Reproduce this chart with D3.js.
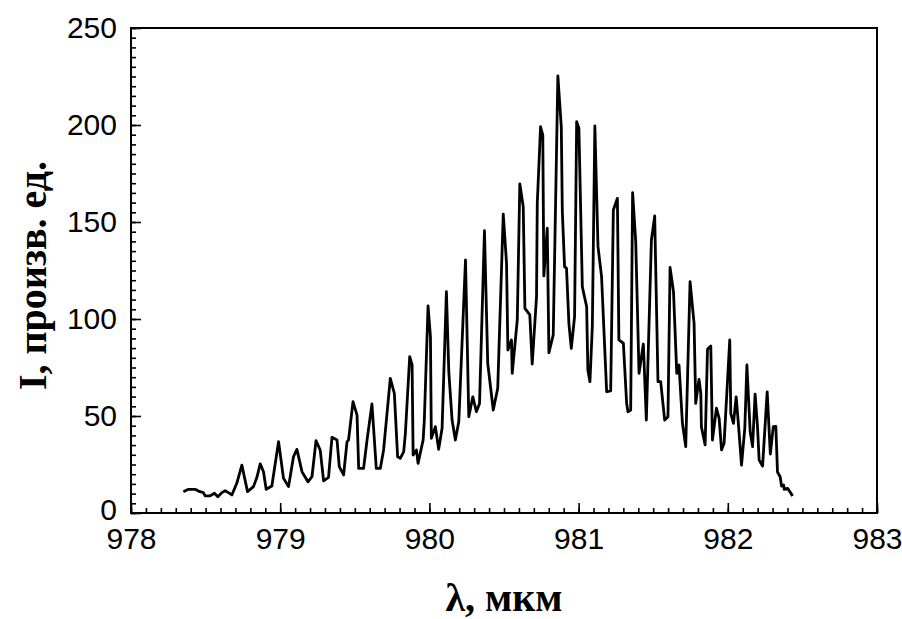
<!DOCTYPE html>
<html>
<head>
<meta charset="utf-8">
<script src="https://cdn.jsdelivr.net/npm/d3@7"></script>
<style>
  body { margin: 0; background: #fff; }
  .tick text { font-family: "Liberation Sans", Arial, sans-serif; font-size: 30px; fill: #000; }
  .title { font-family: "Liberation Serif", "Times New Roman", serif; font-weight: bold; font-size: 40px; fill: #000; }
</style>
</head>
<body>
<svg id="chart" width="902" height="619"></svg>
<script>
// wavelength, um
const lambda = [
  978.351, 978.385, 978.430, 978.452, 978.485, 978.497, 978.530, 978.559, 978.582, 978.609,
  978.631, 978.653, 978.676, 978.709, 978.743, 978.781, 978.821, 978.844, 978.866, 978.888,
  978.906, 978.944, 978.989, 979.022, 979.056, 979.089, 979.112, 979.146, 979.186, 979.213,
  979.240, 979.268, 979.291, 979.324, 979.347, 979.381, 979.396, 979.425, 979.448, 979.458,
  979.488, 979.515, 979.526, 979.559, 979.582, 979.615, 979.644, 979.671, 979.693, 979.738,
  979.765, 979.787, 979.805, 979.828, 979.839, 979.868, 979.884, 979.891, 979.913, 979.924,
  979.958, 979.966, 979.991, 980.007, 980.013, 980.040, 980.062, 980.085, 980.114, 980.130,
  980.152, 980.174, 980.197, 980.242, 980.264, 980.291, 980.315, 980.336, 980.369, 980.391,
  980.428, 980.458, 980.495, 980.517, 980.526, 980.550, 980.555, 980.589, 980.606, 980.629,
  980.640, 980.673, 980.689, 980.718, 980.723, 980.745, 980.760, 980.767, 980.790, 980.801,
  980.830, 980.861, 980.884, 980.891, 980.906, 980.919, 980.935, 980.951, 980.973, 980.987,
  981.002, 981.025, 981.054, 981.062, 981.076, 981.092, 981.109, 981.130, 981.154, 981.188,
  981.215, 981.233, 981.260, 981.270, 981.300, 981.322, 981.331, 981.349, 981.362, 981.383,
  981.405, 981.434, 981.454, 981.488, 981.510, 981.532, 981.550, 981.577, 981.599, 981.613,
  981.636, 981.658, 981.673, 981.696, 981.718, 981.747, 981.774, 981.785, 981.807, 981.819,
  981.823, 981.848, 981.864, 981.886, 981.897, 981.924, 981.942, 981.958, 981.975, 982.013,
  982.020, 982.038, 982.056, 982.069, 982.092, 982.114, 982.128, 982.150, 982.166, 982.183,
  982.199, 982.210, 982.233, 982.264, 982.285, 982.305, 982.322, 982.333, 982.351, 982.360,
  982.374, 982.378, 982.401, 982.423, 982.434
];
// intensity, arb. units
const intensity = [
  11.0, 12.2, 12.2, 11.3, 10.5, 8.8, 8.8, 10.2, 8.4, 10.5,
  11.5, 10.5, 9.3, 15.3, 24.7, 11.0, 13.6, 18.4, 25.3, 21.3,
  12.2, 13.9, 36.8, 17.9, 13.6, 29.0, 32.8, 21.3, 16.1, 18.7,
  37.3, 32.5, 16.6, 18.4, 39.0, 37.6, 23.9, 19.6, 36.8, 37.6,
  57.4, 50.5, 23.0, 23.0, 37.6, 56.2, 23.0, 23.0, 32.5, 69.4,
  61.7, 29.0, 28.2, 31.6, 41.1, 80.6, 76.3, 29.9, 32.5, 25.6,
  37.6, 47.9, 106.7, 90.9, 38.5, 44.5, 32.8, 43.7, 114.1, 72.8,
  47.9, 37.6, 47.1, 130.4, 49.6, 59.9, 52.2, 56.5, 145.5, 77.2,
  53.1, 64.3, 154.1, 128.7, 84.0, 89.2, 72.0, 99.5, 169.6, 157.9,
  105.5, 102.1, 76.8, 111.5, 159.6, 199.1, 194.8, 122.2, 146.8, 82.6,
  91.8, 225.3, 199.1, 155.3, 127.0, 126.1, 97.8, 84.9, 101.2, 201.7,
  198.3, 116.6, 106.3, 73.7, 67.7, 96.0, 199.5, 137.3, 121.8, 62.5,
  63.0, 156.2, 162.2, 89.2, 87.5, 56.5, 52.2, 53.1, 165.1, 139.8,
  72.0, 87.1, 47.9, 140.7, 153.1, 67.7, 67.7, 47.9, 49.6, 126.6,
  114.1, 72.0, 76.3, 46.2, 34.2, 119.2, 97.8, 56.5, 68.9, 61.7,
  44.5, 35.1, 84.4, 86.1, 37.6, 54.0, 48.8, 32.5, 35.9, 89.2,
  51.4, 46.2, 59.9, 47.9, 24.7, 43.7, 76.3, 41.9, 34.2, 61.3,
  44.5, 27.3, 24.2, 62.4, 30.4, 44.5, 44.6, 21.1, 18.7, 13.9,
  14.4, 12.2, 12.7, 10.2, 8.8
];
const xTicks = [978, 979, 980, 981, 982, 983];
const yTicks = [0, 50, 100, 150, 200, 250];

const svg = d3.select('#chart');
const margin = { left: 131, top: 28, right: 25, bottom: 106 };
const W = 902 - margin.left - margin.right;
const H = 619 - margin.top - margin.bottom;

const x = d3.scaleLinear().domain([978, 983]).range([0, W]);
const y = d3.scaleLinear().domain([0, 250]).range([H, 0]);

const g = svg.append('g').attr('transform', `translate(${margin.left},${margin.top})`);

// minor ticks first, then major with labels
g.append('g').attr('transform', `translate(0,${H})`)
  .call(d3.axisBottom(x).tickValues(d3.range(978, 983.001, 0.1)).tickSize(-5).tickFormat(''))
  .call(a => a.select('.domain').remove());
g.append('g').attr('transform', `translate(0,${H})`)
  .call(d3.axisBottom(x).tickValues(xTicks).tickSize(-10).tickPadding(15).tickFormat(d3.format('d')))
  .call(a => a.select('.domain').remove());

g.append('g')
  .call(d3.axisLeft(y).tickValues(d3.range(0, 250.1, 5)).tickSize(-5).tickFormat(''))
  .call(a => a.select('.domain').remove());
g.append('g')
  .call(d3.axisLeft(y).tickValues(yTicks).tickSize(-10).tickPadding(14).tickFormat(d3.format('d')))
  .call(a => a.select('.domain').remove())
  .call(a => a.selectAll('.tick text').attr('dy', (d) => d === 0 ? '0.2em' : '0.32em'));

g.selectAll('.tick line').attr('stroke', '#000').attr('stroke-width', 1.6);

// frame
g.append('rect').attr('width', W).attr('height', H)
  .attr('fill', 'none').attr('stroke', '#000').attr('stroke-width', 2);

const pts = lambda.map((d, i) => [d, intensity[i]]);
g.append('path')
  .datum(pts)
  .attr('fill', 'none')
  .attr('stroke', '#000')
  .attr('stroke-width', 2.8)
  .attr('stroke-linejoin', 'round')
  .attr('d', d3.line().x(d => x(d[0])).y(d => y(d[1])));

svg.append('text').attr('class', 'title')
  .attr('x', margin.left + W / 2).attr('y', 611)
  .attr('text-anchor', 'middle')
  .text('λ, мкм');

svg.append('text').attr('class', 'title')
  .attr('transform', `translate(46,${margin.top + H / 2 + 5}) rotate(-90)`)
  .attr('text-anchor', 'middle')
  .text('I, произв. ед.');
</script>
</body>
</html>
